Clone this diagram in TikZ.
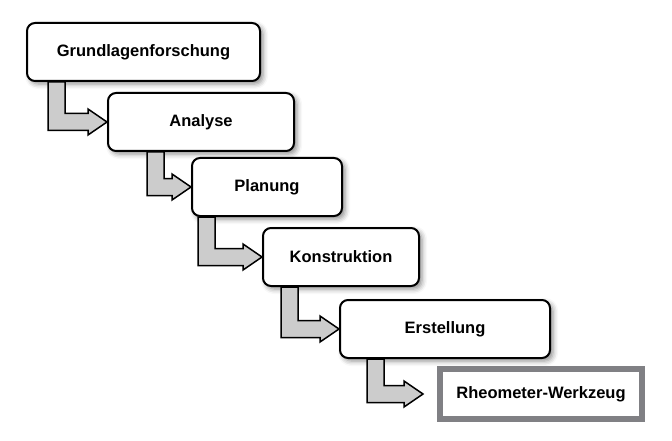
\documentclass[tikz,border=0pt]{standalone}
\usepackage{fontspec}
\setmainfont{Liberation Sans}
\usetikzlibrary{calc,shadows.blur}

\definecolor{randgrau}{RGB}{128,128,132}
\definecolor{pfeilgrau}{RGB}{204,204,204}

\tikzset{
  stufe/.style={draw,line width=2pt,rounded corners=8pt,fill=white,
    minimum height=58pt,inner sep=0pt,
    blur shadow={shadow xshift=3pt,shadow yshift=-3pt,shadow blur radius=5pt,shadow opacity=45},
    font=\fontsize{16.5}{19}\selectfont\bfseries},
  ziel/.style={draw=randgrau,line width=6pt,fill=white,
    minimum height=50pt,inner sep=0pt,
    font=\fontsize{16.5}{19}\selectfont\bfseries},
  pfeil/.style={draw=black,line width=1.5pt,fill=pfeilgrau,line join=miter}
}

% #1 from, #2 to, #3 bar offset, #4 gap before the box
\newcommand\stufenpfeil[4]{%
  \draw[pfeil] let \p1=($(#1.south west)+(#3,0)$), \p2=($(#2.west)+(-#4,0)$) in
    (\x1,\y1) -- (\x1+17pt,\y1) -- (\x1+17pt,\y2+8.5pt) -- (\x2-19pt,\y2+8.5pt)
    -- (\x2-19pt,\y2+13pt) -- (\x2,\y2) -- (\x2-19pt,\y2-13pt)
    -- (\x2-19pt,\y2-8.5pt) -- (\x1,\y2-8.5pt) -- cycle;}

\begin{document}
\begin{tikzpicture}[x=1pt,y=-1pt]
\useasboundingbox (0,0) rectangle (672,441);

\node[stufe,minimum width=233pt] (grund) at (143.5,52) {Grundlagenforschung};
\node[stufe,minimum width=186pt] (analyse) at (201,122) {Analyse};
\node[stufe,minimum width=150pt] (planung) at (267,187) {Planung};
\node[stufe,minimum width=156pt] (konstr) at (341,257) {Konstruktion};
\node[stufe,minimum width=210pt] (erst) at (445,329) {Erstellung};
\node[ziel,minimum width=202pt] (rheo) at (541,394) {Rheometer-Werkzeug};

\stufenpfeil{grund}{analyse}{22pt}{0pt}
\stufenpfeil{analyse}{planung}{40pt}{0pt}
\stufenpfeil{planung}{konstr}{7pt}{0pt}
\stufenpfeil{konstr}{erst}{19pt}{0pt}
\stufenpfeil{erst}{rheo}{28pt}{14pt}

\end{tikzpicture}
\end{document}
